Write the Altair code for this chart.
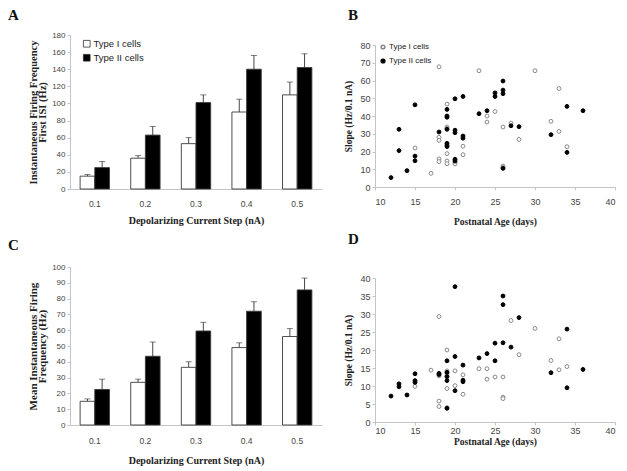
import altair as alt
import pandas as pd

# ---------------- data ----------------
steps = ["0.1", "0.2", "0.3", "0.4", "0.5"]
types = ["Type I cells", "Type II cells"]

# Panel A: first-ISI instantaneous firing frequency (Hz), mean and top of error bar
a_type1 = [15, 36, 53, 90, 110]
a_type1_top = [17, 39, 60, 105, 125]
a_type2 = [25, 63, 101, 140, 142]
a_type2_top = [32, 73, 110, 156, 158]

# Panel C: mean instantaneous firing frequency (Hz)
c_type1 = [15, 27, 36.5, 49, 56]
c_type1_top = [16.5, 29, 40, 52, 61]
c_type2 = [22.5, 43.5, 59.5, 72, 85.5]
c_type2_top = [29, 52.5, 65, 78, 93]

# Panel B: slope vs postnatal age
b_t1_age = [18, 23, 30, 33, 19, 25, 24, 24, 32, 27, 19, 26, 19, 33, 18, 18, 28, 21, 34, 15,
            19, 21, 18, 18, 19, 19, 20, 20, 17, 26, 26]
b_t1_slope = [67.7, 65.5, 65.5, 55.5, 46.7, 42.5, 40, 36.6, 37, 36, 33.8, 33.8, 33, 31.3, 28, 26.3,
              26.8, 23, 22.7, 22, 18.8, 18.2, 15.8, 14.3, 14.6, 13.1, 13.9, 13, 7.7, 11.8, 11]
b_t2_age = [12, 13, 13, 14, 15, 15, 15, 18, 19, 19, 19, 19, 19, 19, 19, 20, 20, 20, 20, 20,
            21, 21, 21, 23, 24, 25, 25, 26, 26, 26, 26, 27, 28, 32, 34, 34, 36]
b_t2_slope = [5.3, 32.5, 20.5, 9.2, 46.3, 17.4, 14.8, 31, 43.7, 40, 39.3, 32.5, 24.6, 23.6, 22.8,
              49.7, 32, 30.6, 15.6, 14.6, 51, 28.7, 27.5, 41.3, 43, 53, 51, 59.7, 54.6, 52.6, 10.5,
              34.5, 34, 29.5, 45.4, 19.5, 43]

# Panel D: slope vs postnatal age
d_t1_age = [18, 27, 30, 33, 19, 28, 32, 23, 24, 17, 19, 19, 20, 33, 34, 21, 18, 19, 25, 26,
            24, 20, 15, 19, 21, 26, 26, 18, 18, 19]
d_t1_slope = [29.3, 28.2, 26, 23.1, 20, 18.7, 17.1, 14.8, 14.8, 14.4, 14.2, 13.5, 14.2, 14.5, 15.4,
              13.1, 12.8, 12.7, 12.5, 12.5, 11.9, 10.1, 9.9, 9.3, 7.7, 6.9, 6.5, 5.8, 4.3, 4]
d_t2_age = [12, 13, 13, 14, 15, 15, 15, 18, 18, 19, 19, 19, 19, 19, 20, 20, 20, 21, 21, 21,
            23, 24, 25, 25, 26, 26, 26, 27, 28, 32, 34, 34, 36]
d_t2_slope = [7.2, 10.6, 9.8, 7.5, 13.4, 11.5, 11, 13.5, 13.2, 17, 13.8, 12.6, 11.5, 3.8, 37.6,
              18.2, 8.7, 15.8, 11.6, 11.2, 17.8, 19, 21.9, 17, 35, 32.6, 22, 20.8, 29, 13.7, 25.8,
              9.5, 14.6]

# ---------------- styling helpers ----------------
SERIF = "Liberation Serif"
SANS = "Liberation Sans"


def panel_title(letter, offset, dx):
    return alt.TitleParams(letter, anchor="start", frame="group", font=SERIF, fontSize=15,
                           fontWeight="bold", color="#111", dx=dx, offset=offset)


def bar_panel(t1, t1top, t2, t2top, ymax, ystep, ytitle, letter, w, h, toff, key,
              leg_y, leg_font, lab_pad, title_pad, ytitle_size):
    fld = "type" + key
    df = pd.DataFrame({
        "step": steps * 2,
        fld: [types[0]] * 5 + [types[1]] * 5,
        "mean": t1 + t2,
        "top": t1top + t2top,
    })
    x = alt.X("step:N", sort=steps, title="Depolarizing Current Step (nA)",
              scale=alt.Scale(paddingInner=0.42, paddingOuter=0.2),
              axis=alt.Axis(labelAngle=0, ticks=False, labelPadding=lab_pad,
                            labelFontSize=8.5, titlePadding=title_pad))
    xo = alt.XOffset(f"{fld}:N", sort=types, scale=alt.Scale(paddingInner=0, paddingOuter=0))
    yscale = alt.Scale(domain=[0, ymax], nice=False)
    yvals = list(range(0, ymax + 1, ystep))
    yaxis = alt.Axis(values=yvals, labelFontSize=8, tickSize=3, titlePadding=4,
                     titleFontSize=ytitle_size, titleLineHeight=9.5)
    y_mean = alt.Y("mean:Q", scale=yscale, title=ytitle, axis=yaxis)
    y_top = alt.Y("top:Q", scale=yscale, title=ytitle, axis=yaxis)
    bars = alt.Chart(df).mark_bar(stroke="#3a3a3a", strokeWidth=0.9).encode(
        x=x, xOffset=xo, y=y_mean,
        fill=alt.Fill(f"{fld}:N", sort=types,
                      scale=alt.Scale(domain=types, range=["white", "black"]),
                      legend=alt.Legend(title=None, orient="none", legendX=12, legendY=leg_y,
                                        symbolType="square", symbolSize=45,
                                        symbolStrokeColor="#333", symbolStrokeWidth=0.8,
                                        labelFont=SANS, labelFontSize=leg_font,
                                        labelColor="#222", rowPadding=3, labelOffset=2)),
    )
    err = alt.Chart(df).mark_rule(color="#333", strokeWidth=0.9).encode(
        x=x, xOffset=xo, y=y_mean, y2="top:Q")
    cap = alt.Chart(df).mark_tick(color="#333", size=6, thickness=0.9).encode(
        x=x, xOffset=xo, y=y_top)
    return alt.layer(err, bars, cap).properties(
        width=w, height=h, title=panel_title(letter, toff, -62))


def scatter_panel(t1a, t1s, t2a, t2s, ymax, ystep, letter, w, h, ytop, toff, key,
                  lab_pad, title_pad):
    fld = "type" + key
    df = pd.DataFrame({
        "age": t1a + t2a,
        "slope": t1s + t2s,
        fld: [types[0]] * len(t1a) + [types[1]] * len(t2a),
    })
    leg = dict(title=None, orient="none", legendX=4, legendY=ytop - 2,
               symbolType="circle", symbolSize=14,
               labelFont=SANS, labelFontSize=8, labelColor="#222",
               rowPadding=4, labelOffset=2)
    return alt.Chart(df).mark_point(filled=True, size=15, strokeWidth=1, opacity=1).encode(
        x=alt.X("age:Q", title="Postnatal Age (days)",
                scale=alt.Scale(domain=[10, 40], nice=False),
                axis=alt.Axis(values=list(range(10, 41, 5)), labelFontSize=9,
                              tickSize=3, labelPadding=lab_pad, titlePadding=title_pad,
                              titleFontSize=9.5)),
        y=alt.Y("slope:Q", title="Slope (Hz/0.1 nA)",
                scale=alt.Scale(domain=[0, ymax], nice=False, range=[h, ytop]),
                axis=alt.Axis(values=list(range(0, ymax + 1, ystep)), labelFontSize=9,
                              tickSize=3, titlePadding=6, titleFontSize=9.5)),
        fill=alt.Fill(f"{fld}:N", sort=types,
                      scale=alt.Scale(domain=types, range=["white", "black"]),
                      legend=alt.Legend(**leg)),
        stroke=alt.Stroke(f"{fld}:N", sort=types,
                          scale=alt.Scale(domain=types, range=["#8a8a8a", "black"]),
                          legend=alt.Legend(**leg)),
    ).properties(width=w, height=h, title=panel_title(letter, toff, -27))


pA = bar_panel(a_type1, a_type1_top, a_type2, a_type2_top, 180, 20,
               ["Instantaneous Firing Frequency", "First ISI (Hz)"], "A", 252, 154, 8, "a",
               4, 9.5, 10, 8, 10.5)
pC = bar_panel(c_type1, c_type1_top, c_type2, c_type2_top, 100, 10,
               ["Mean Instantaneous Firing", "Frequency (Hz)"], "C", 252, 158, 10, "c",
               2, 10.5, 11, 11, 11)
pB = scatter_panel(b_t1_age, b_t1_slope, b_t2_age, b_t2_slope, 80, 10, "B", 240, 152, 10, 12,
                   "b", 7, 10)
pD = scatter_panel(d_t1_age, d_t1_slope, d_t2_age, d_t2_slope, 40, 5, "D", 240, 161, 17, 14,
                   "d", 1, 1)

left = alt.vconcat(pA, pC, spacing=12)
right = alt.vconcat(pB, pD, spacing=6)

chart = alt.hconcat(left, right, spacing=21).resolve_scale(
    fill="independent", stroke="independent"
).resolve_legend(
    fill="independent", stroke="independent"
).properties(
    padding=0
).configure_view(stroke=None).configure_axis(
    grid=False, domainColor="#c4c4c4", tickColor="#c4c4c4",
    labelColor="#444", labelFont=SANS, titleFont=SERIF, titleFontWeight="bold",
    titleFontSize=10, titleColor="#222",
)

chart.save("out.html", embed_options={"renderer": "svg", "actions": False})
